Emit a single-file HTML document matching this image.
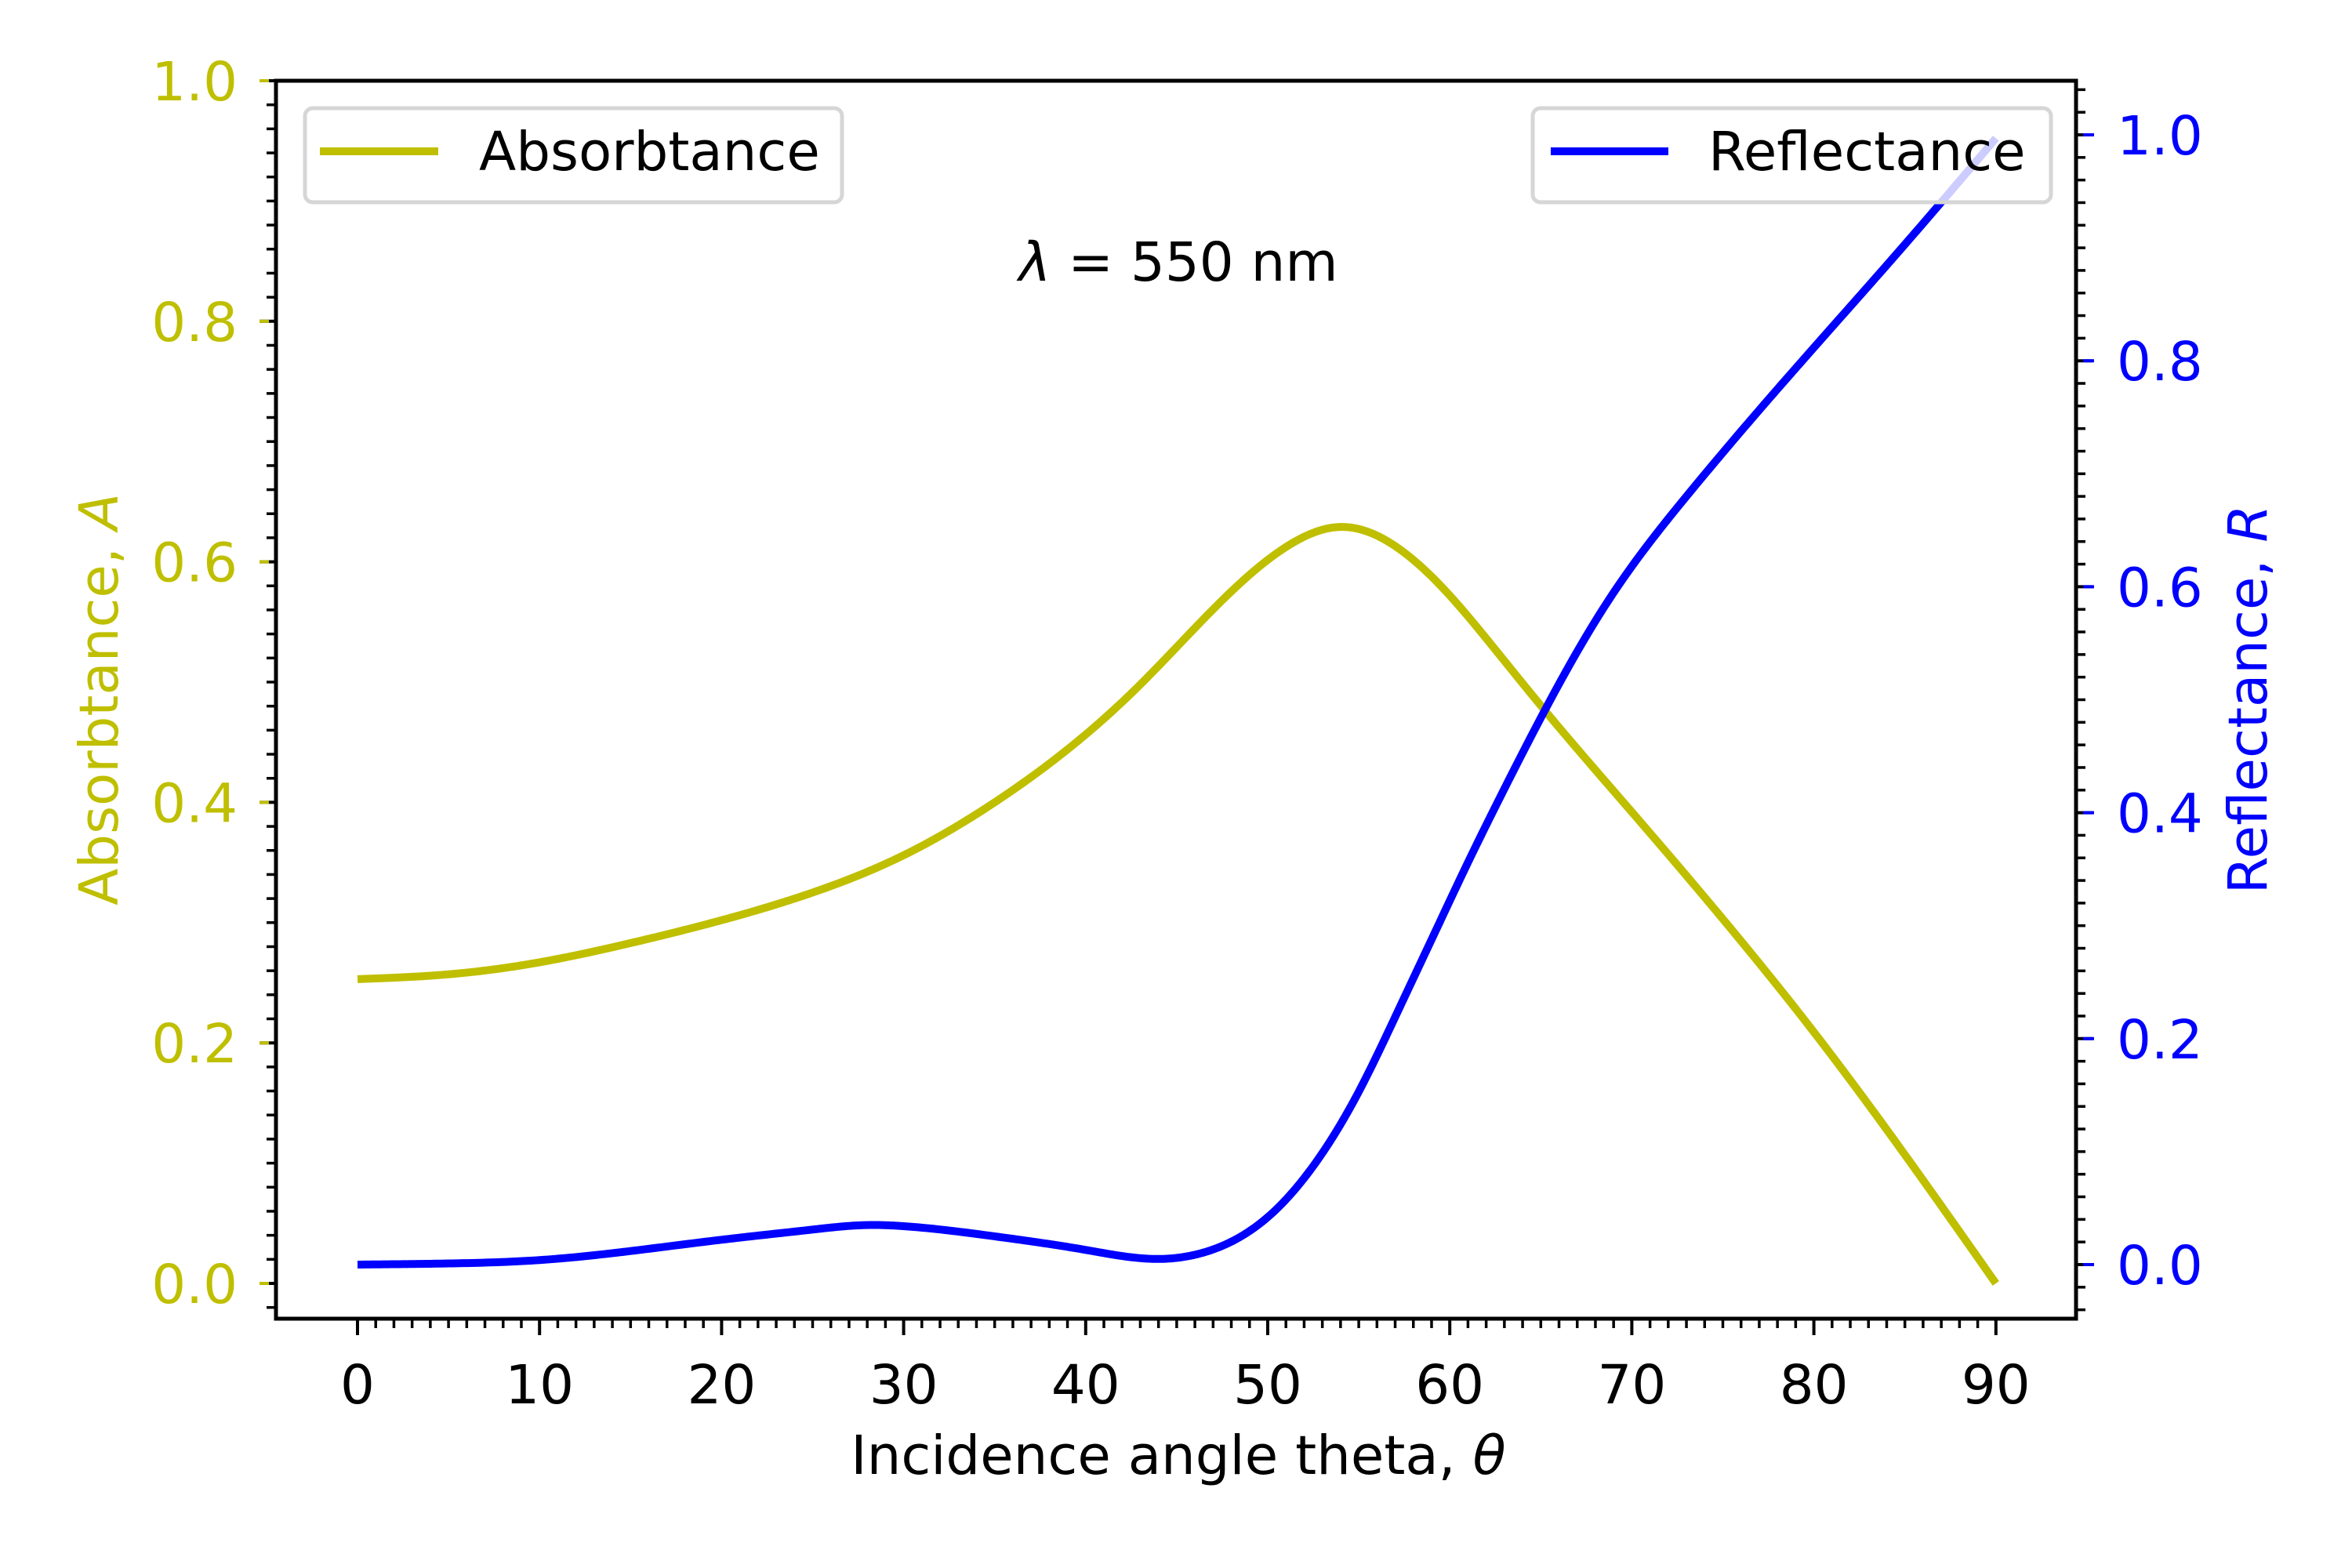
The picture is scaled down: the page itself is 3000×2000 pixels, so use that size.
<!DOCTYPE html>
<html><head><meta charset="utf-8"><style>
html,body{margin:0;padding:0;background:#fff;}
svg{display:block;font-family:"DejaVu Sans","Liberation Sans",sans-serif;}
</style></head><body>
<svg id="chart" width="3000" height="2000" viewBox="0 0 3000 2000" xmlns="http://www.w3.org/2000/svg">
<rect x="0" y="0" width="3000" height="2000" fill="#fff"/>
<g id="plot"></g>
</svg>
<script>
const thetaA = [0,5,10,15,20,25,30,35,38.5,42.8,47.1,51.4,54,57.2,60,62.5,65.3,70,75,80,85,90];
const absorb = [0.253,0.257,0.267,0.283,0.302,0.325,0.356,0.400,0.438,0.495,0.562,0.616,0.629,0.611,0.572,0.527,0.475,0.392,0.303,0.209,0.107,0.0];
const thetaR = [0,5,10,15,20,25,28,30,35,40,44,47.1,50,52.8,55,57.2,59.3,61,62.9,65.2,68.6,73,77.3,79.8,85,90];
const reflect = [0.0,0.001,0.004,0.012,0.022,0.031,0.035,0.034,0.025,0.013,0.005,0.014,0.042,0.094,0.153,0.226,0.298,0.356,0.418,0.490,0.585,0.680,0.762,0.808,0.903,0.997];
const xTicks = [0,10,20,30,40,50,60,70,80,90];
const aTicks = [0.0,0.2,0.4,0.6,0.8,1.0];
const rTicks = [0.0,0.2,0.4,0.6,0.8,1.0];

const L=352,R=2648,T=103,B=1682;
const xs = v => 456 + v*23.22;
const ya = v => 1637 - v*1534;
const yr = v => 1613 - v*1441;
const NS="http://www.w3.org/2000/svg";
const g=document.getElementById('plot');
function mk(tag,attrs,parent){const e=document.createElementNS(NS,tag);for(const k in attrs)e.setAttribute(k,attrs[k]);(parent||g).appendChild(e);return e;}
function splinePath(X,Y,fx,fy){
  const n=X.length, h=[], al=[0], l=[1], mu=[0], z=[0], c=new Array(n).fill(0), b=[], d=[];
  for(let i=0;i<n-1;i++) h.push(X[i+1]-X[i]);
  for(let i=1;i<n-1;i++) al.push(3/h[i]*(Y[i+1]-Y[i])-3/h[i-1]*(Y[i]-Y[i-1]));
  for(let i=1;i<n-1;i++){ l[i]=2*(X[i+1]-X[i-1])-h[i-1]*mu[i-1]; mu[i]=h[i]/l[i]; z[i]=(al[i]-h[i-1]*z[i-1])/l[i]; }
  for(let j=n-2;j>=0;j--){ c[j]=(z[j]||0)-(mu[j]||0)*c[j+1]; b[j]=(Y[j+1]-Y[j])/h[j]-h[j]*(c[j+1]+2*c[j])/3; d[j]=(c[j+1]-c[j])/(3*h[j]); }
  let s=`M${fx(X[0])},${fy(Y[0])}`;
  for(let i=0;i<n-1;i++){
    for(let k=1;k<=24;k++){
      const t=h[i]*k/24;
      const y=Y[i]+b[i]*t+c[i]*t*t+d[i]*t*t*t;
      s+=` L${fx(X[i]+t).toFixed(2)},${fy(y).toFixed(2)}`;
    }
  }
  return s;
}
const la=mk('path',{d:splinePath(thetaA,absorb,xs,ya),fill:'none',stroke:'#bfbf00','stroke-width':10,'stroke-linejoin':'round'});


const lr=mk('path',{d:splinePath(thetaR,reflect,xs,yr),fill:'none',stroke:'#0000ff','stroke-width':10,'stroke-linejoin':'round'});



for(let v=0;v<=90;v++){
  const major=xTicks.includes(v);
  const t=mk('line',{x1:xs(v),x2:xs(v),y1:B,y2:B+(major?21:12),stroke:'#000','stroke-width':major?4:3.5});
  
  
}
xTicks.forEach(v=>{
  const t=mk('text',{x:xs(v),y:1790,'text-anchor':'middle','font-size':69,fill:'#000'});
  t.textContent=String(v);
  
  
});
for(let i=-1;i<=50;i++){
  const v=i*0.02; const major=i%10===0;
  const t=mk('line',{x1:L,x2:L-(major?21:12),y1:ya(v),y2:ya(v),stroke:'#000','stroke-width':major?4:3.5});
  
  
}
aTicks.forEach(v=>{
  mk('line',{x1:L-21,x2:L-9,y1:ya(v),y2:ya(v),stroke:'#bfbf00','stroke-width':4});
  const t=mk('text',{x:303,y:ya(v)+25,'text-anchor':'end','font-size':69,fill:'#bfbf00'});
  t.textContent=v.toFixed(1);
  
  
});
for(let i=-2;i<=52;i++){
  const v=i*0.02; const major=i%10===0;
  const t=mk('line',{x1:R,x2:R+(major?21:12),y1:yr(v),y2:yr(v),stroke:'#000','stroke-width':major?4:3.5});
  
  
}
rTicks.forEach(v=>{
  mk('line',{x1:R+9,x2:R+23,y1:yr(v),y2:yr(v),stroke:'#0000ff','stroke-width':4});
  const t=mk('text',{x:2700,y:yr(v)+25,'text-anchor':'start','font-size':69,fill:'#0000ff'});
  t.textContent=v.toFixed(1);
  
  
});
const sp=mk('rect',{x:L,y:T,width:R-L,height:B-T,fill:'none',stroke:'#000','stroke-width':5});



function legend(x,y,w,h,lx1,lx2,color,label,tx,name){
  const grp=mk('g',{});
  
  
  mk('rect',{x:x,y:y,width:w,height:h,rx:10,fill:'rgba(255,255,255,0.8)',stroke:'#d6d6d6','stroke-width':5},grp);
  mk('line',{x1:lx1,x2:lx2,y1:y+55,y2:y+55,stroke:color,'stroke-width':10},grp);
  const t=mk('text',{x:tx,y:y+79,'font-size':69,fill:'#000'},grp);
  t.textContent=label;
}
legend(389,138,685,120,408,559,'#bfbf00','Absorbtance',611,'legend-absorbtance');
legend(1955,138,661,120,1978,2128,'#0000ff','Reflectance',2179,'legend-reflectance');
</script>
<script>
const s=document.getElementById('chart');
const NS2="http://www.w3.org/2000/svg";
function tx(attrs,content,name){const e=document.createElementNS(NS2,'text');for(const k in attrs)e.setAttribute(k,attrs[k]);e.innerHTML=content;


s.appendChild(e);}
tx({x:1503,y:358,'text-anchor':'middle','font-size':69,fill:'#000'},'<tspan font-style="italic">λ</tspan> = 550 nm','wavelength-annotation');
tx({x:1503,y:1880,'text-anchor':'middle','font-size':69,fill:'#000'},'Incidence angle theta, <tspan font-style="italic">θ</tspan>','x-axis-title');
tx({x:0,y:0,'text-anchor':'middle','font-size':69,fill:'#bfbf00',transform:'translate(150,892) rotate(-90)'},'Absorbtance, <tspan font-style="italic">A</tspan>','left-y-axis-title');
tx({x:0,y:0,'text-anchor':'middle','font-size':69,fill:'#0000ff',transform:'translate(2891,892) rotate(-90)'},'Reflectance, <tspan font-style="italic">R</tspan>','right-y-axis-title');
</script>
</body></html>
